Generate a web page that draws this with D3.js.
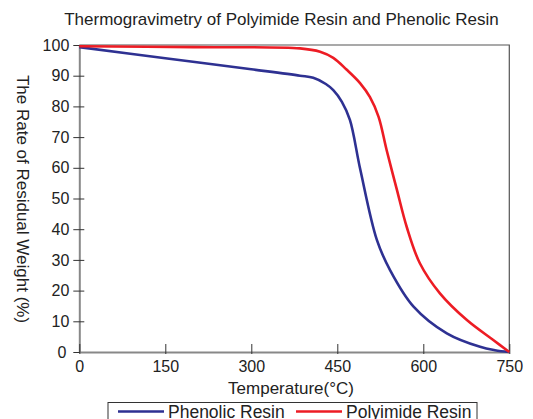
<!DOCTYPE html>
<html><head><meta charset="utf-8">
<script src="https://cdn.jsdelivr.net/npm/d3@7"></script>
<style>body{margin:0;background:#fff;} svg{display:block;font-family:"Liberation Sans",Arial,sans-serif;}</style>
</head><body><svg id="c" width="533" height="419"></svg>
<script>
const title = "Thermogravimetry of Polyimide Resin and Phenolic Resin";
const xLabel = "Temperature(°C)";
const yLabel = "The Rate of Residual Weight (%)";
const xTicks = [0,150,300,450,600,750];
const yTicks = [0,10,20,30,40,50,60,70,80,90,100];
const seriesNames = ["Phenolic Resin","Polyimide Resin"];
const seriesColors = ["#2e3192","#ed1c24"];
const phenolicT = [0,150,300,385,408,430,443,458,472,490,519,542,583,641,699,725,750];
const phenolicW = [99.3,95.7,92.1,90.0,89.3,87.3,85.3,81.5,75.6,59.5,36.5,26.7,14.8,6.1,1.7,0.6,0];
const polyimideT = [0,200,385,420,443,466,490,507,522,536,554,571,594,629,676,722,750];
const polyimideW = [99.6,99.3,98.9,97.8,95.8,92,87.5,83,76.6,65.8,52.8,40.8,28.9,19.1,10.4,3.9,0];

const svg = d3.select("#c");
const L=79.3, R=509.3, T=45, B=352;
const x = d3.scaleLinear().domain([0,750]).range([L,R]);
const y = d3.scaleLinear().domain([0,100]).range([B,T]);

svg.append("text").attr("x",281.5).attr("y",25).attr("text-anchor","middle")
  .attr("font-size",17).attr("fill","#222").text(title);

// frame top/right
svg.append("path").attr("d",`M${L},${T}H${R}V${B}`).attr("fill","none").attr("stroke","#555").attr("stroke-width",1.2);

const yAxis = svg.append("g").attr("transform",`translate(${L},0)`)
  .call(d3.axisLeft(y).tickValues(yTicks).tickSizeInner(6).tickSizeOuter(0).tickPadding(4));
yAxis.selectAll(".tick line").attr("x2",5).attr("x1",-6).attr("stroke","#333");
yAxis.select(".domain").attr("stroke","#888").attr("stroke-width",2);
yAxis.selectAll("text").attr("font-size",16).attr("fill","#222").attr("font-family","Liberation Sans, Arial, sans-serif");
yAxis.selectAll(".tick text").filter(d=>d===0).attr("dx",-3);

const xAxis = svg.append("g").attr("transform",`translate(0,${B})`)
  .call(d3.axisBottom(x).tickValues(xTicks).tickSizeOuter(0).tickSize(0).tickPadding(9));
xAxis.selectAll(".tick line").attr("y1",-8).attr("y2",2).attr("stroke","#333");
xAxis.select(".domain").attr("stroke","#888").attr("stroke-width",2);
xAxis.selectAll("text").attr("font-size",16).attr("fill","#222").attr("font-family","Liberation Sans, Arial, sans-serif");

svg.append("text").attr("x",291).attr("y",394).attr("text-anchor","middle")
  .attr("font-size",17).attr("fill","#222").text(xLabel);
svg.append("text").attr("transform","translate(17,199) rotate(90)").attr("text-anchor","middle")
  .attr("font-size",17).attr("fill","#222").text(yLabel);

const line = d3.line().x(d=>x(d[0])).y(d=>y(d[1])).curve(d3.curveCatmullRom.alpha(0.5));
const data = [d3.zip(phenolicT,phenolicW), d3.zip(polyimideT,polyimideW)];
svg.append("g").selectAll("path").data(data).join("path")
  .attr("d",line).attr("fill","none").attr("stroke",(d,i)=>seriesColors[i]).attr("stroke-width",2.6);

// legend
const lg = svg.append("g");
lg.append("rect").attr("x",108).attr("y",402.5).attr("width",369).attr("height",30).attr("fill","#fff").attr("stroke","#333").attr("stroke-width",1);
const lx = [118,296];
seriesNames.forEach((n,i)=>{
  lg.append("line").attr("x1",lx[i]).attr("x2",lx[i]+46).attr("y1",411.5).attr("y2",411.5).attr("stroke",seriesColors[i]).attr("stroke-width",2.6);
  lg.append("text").attr("x",lx[i]+50).attr("y",417.5).attr("font-size",17.5).attr("fill","#222").text(n);
});
</script></body></html>
